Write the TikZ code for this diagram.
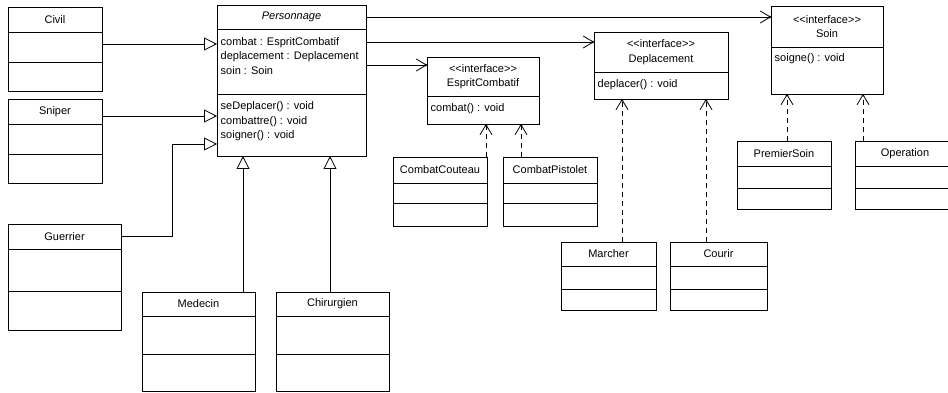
\documentclass[tikz,border=0pt]{standalone}
\usepackage{fontspec}
\setmainfont{Liberation Sans}
\usetikzlibrary{arrows.meta,positioning,shadows}
\newcommand{\umlfont}{\fontsize{11}{14.5}\selectfont}

\begin{document}
\begin{tikzpicture}[
  x=1pt, y=-1pt,
  font=\umlfont,
  umlpart/.style={rectangle, draw, fill=white, line width=0.8pt, inner sep=0pt,
                  outer sep=0pt,
                  general shadow={fill=gray!55, shadow xshift=1.4pt, shadow yshift=-1.4pt}},
  umlhead/.style={umlpart, align=center},
  members/.style={inner sep=0pt, anchor=north west, align=left},
  inherit/.style={draw, line width=0.8pt,
                  -{Triangle[open, length=13pt, width=13pt, fill=white]}},
  assoc/.style={draw, line width=0.8pt,
                -{Straight Barb[length=10pt, width=12pt, sep=-2.5pt] Circle[length=2.5pt]}},
  realize/.style={assoc, dash pattern=on 5pt off 4pt},
]
  \useasboundingbox (0,0) rectangle (948,393);
  \clip (0,0) rectangle (948,393);

  % ========= PERSONNAGE (abstract) =========
  \node[umlhead, minimum width=149, minimum height=24, font=\umlfont\itshape]
       (pers) at (291.5,17) {Personnage};
  \node[umlpart, minimum width=149, minimum height=65, below=0pt of pers] (persA) {};
  \node[umlpart, minimum width=149, minimum height=62, below=0pt of persA] (persO) {};
  \node[members, below right=8pt and 3.5pt of persA.north west]
       {combat : EspritCombatif\\ deplacement : Deplacement\\ soin : Soin};
  \node[members, below right=7.5pt and 3.5pt of persO.north west]
       {seDeplacer() : void\\ combattre() : void\\ soigner() : void};

  % ========= Subclasses (left and bottom) =========
  \node[umlhead, minimum width=94, minimum height=25] (civil) at (55,19.5) {Civil};
  \node[umlpart, minimum width=94, minimum height=30, below=0pt of civil] (civilA) {};
  \node[umlpart, minimum width=94, minimum height=29, below=0pt of civilA] (civilO) {};

  \node[umlhead, minimum width=94, minimum height=25] (sniper) at (55,111.5) {Sniper};
  \node[umlpart, minimum width=94, minimum height=30, below=0pt of sniper] (sniperA) {};
  \node[umlpart, minimum width=94, minimum height=29, below=0pt of sniperA] (sniperO) {};

  \node[umlhead, minimum width=113, minimum height=25] (guerrier) at (64.5,236.5) {Guerrier};
  \node[umlpart, minimum width=113, minimum height=42, below=0pt of guerrier] (guerrierA) {};
  \node[umlpart, minimum width=113, minimum height=39, below=0pt of guerrierA] (guerrierO) {};

  \node[umlhead, minimum width=113, minimum height=24] (medecin) at (198.5,304) {Medecin};
  \node[umlpart, minimum width=113, minimum height=38, below=0pt of medecin] (medecinA) {};
  \node[umlpart, minimum width=113, minimum height=37, below=0pt of medecinA] (medecinO) {};

  \node[umlhead, minimum width=113, minimum height=24] (chir) at (332.5,304) {Chirurgien};
  \node[umlpart, minimum width=113, minimum height=38, below=0pt of chir] (chirA) {};
  \node[umlpart, minimum width=113, minimum height=37, below=0pt of chirA] (chirO) {};

  % ========= Interfaces =========
  \node[umlhead, minimum width=112, minimum height=39] (esprit) at (483,76.5)
       {{<}{<}interface{>}{>}\\ EspritCombatif};
  \node[umlpart, minimum width=112, minimum height=28, below=0pt of esprit] (espritO) {};
  \node[members, below right=7.5pt and 3.5pt of espritO.north west] {combat() : void};

  \node[umlhead, minimum width=134, minimum height=40] (depl) at (661,52)
       {{<}{<}interface{>}{>}\\ Deplacement};
  \node[umlpart, minimum width=134, minimum height=27, below=0pt of depl] (deplO) {};
  \node[members, below right=7pt and 3.5pt of deplO.north west] {deplacer() : void};

  \node[umlhead, minimum width=112, minimum height=41] (soin) at (827,26.5)
       {{<}{<}interface{>}{>}\\ Soin};
  \node[umlpart, minimum width=112, minimum height=47, below=0pt of soin] (soinO) {};
  \node[members, below right=6.5pt and 3.5pt of soinO.north west] {soigne() : void};

  % ========= Implementations =========
  \node[umlhead, minimum width=94, minimum height=26] (couteau) at (440,170) {CombatCouteau};
  \node[umlpart, minimum width=94, minimum height=20, below=0pt of couteau] (couteauA) {};
  \node[umlpart, minimum width=94, minimum height=23, below=0pt of couteauA] (couteauO) {};

  \node[umlhead, minimum width=94, minimum height=26] (pistolet) at (550,170) {CombatPistolet};
  \node[umlpart, minimum width=94, minimum height=20, below=0pt of pistolet] (pistoletA) {};
  \node[umlpart, minimum width=94, minimum height=23, below=0pt of pistoletA] (pistoletO) {};

  \node[umlhead, minimum width=95, minimum height=24] (marcher) at (608.5,254) {Marcher};
  \node[umlpart, minimum width=95, minimum height=23, below=0pt of marcher] (marcherA) {};
  \node[umlpart, minimum width=95, minimum height=21, below=0pt of marcherA] (marcherO) {};

  \node[umlhead, minimum width=97, minimum height=24] (courir) at (718.5,254) {Courir};
  \node[umlpart, minimum width=97, minimum height=23, below=0pt of courir] (courirA) {};
  \node[umlpart, minimum width=97, minimum height=21, below=0pt of courirA] (courirO) {};

  \node[umlhead, minimum width=94, minimum height=25] (premier) at (784,153.5) {PremierSoin};
  \node[umlpart, minimum width=94, minimum height=22, below=0pt of premier] (premierA) {};
  \node[umlpart, minimum width=94, minimum height=21, below=0pt of premierA] (premierO) {};

  \node[umlhead, minimum width=100, minimum height=25] (operation) at (905,153.5) {Operation};
  \node[umlpart, minimum width=100, minimum height=22, below=0pt of operation] (operationA) {};
  \node[umlpart, minimum width=100, minimum height=21, below=0pt of operationA] (operationO) {};

  % Generalisation edges
  \draw[inherit] ([yshift=3pt]civilA.east) -- ([yshift=3pt]civilA.east -| persA.west);
  \draw[inherit] ([yshift=-4.5pt]sniper.east) -- ([yshift=-4.5pt]sniper.east -| persO.west);
  \coordinate (gbend) at (172,144);
  \draw[inherit] (guerrier.east) -| (gbend) -- (gbend -| persO.west);
  \foreach \cls/\dx in {medecin/44.5, chir/-2.5} {
    \draw[inherit] ([xshift=\dx pt]\cls.north) -- ([xshift=\dx pt]\cls.north |- persO.south);
  }

  % Associations from Personnage
  \draw[assoc] (pers.east) -- (pers.east -| soin.west);
  \draw[assoc] ([yshift=-13pt]persA.north east) -- ([yshift=-13pt]persA.north east -| depl.west);
  \draw[assoc] ([yshift=-36pt]persA.north east) -- ([yshift=-36pt]persA.north east -| esprit.west);

  % Realisations
  \foreach \cls/\dx/\iface in {couteau/46/espritO, pistolet/-29/espritO,
                               marcher/13.5/deplO, courir/-12.5/deplO,
                               premier/3/soinO, operation/-42/soinO} {
    \draw[realize] ([xshift=\dx pt]\cls.north) -- ([xshift=\dx pt]\cls.north |- \iface.south);
  }

\end{tikzpicture}
\end{document}
